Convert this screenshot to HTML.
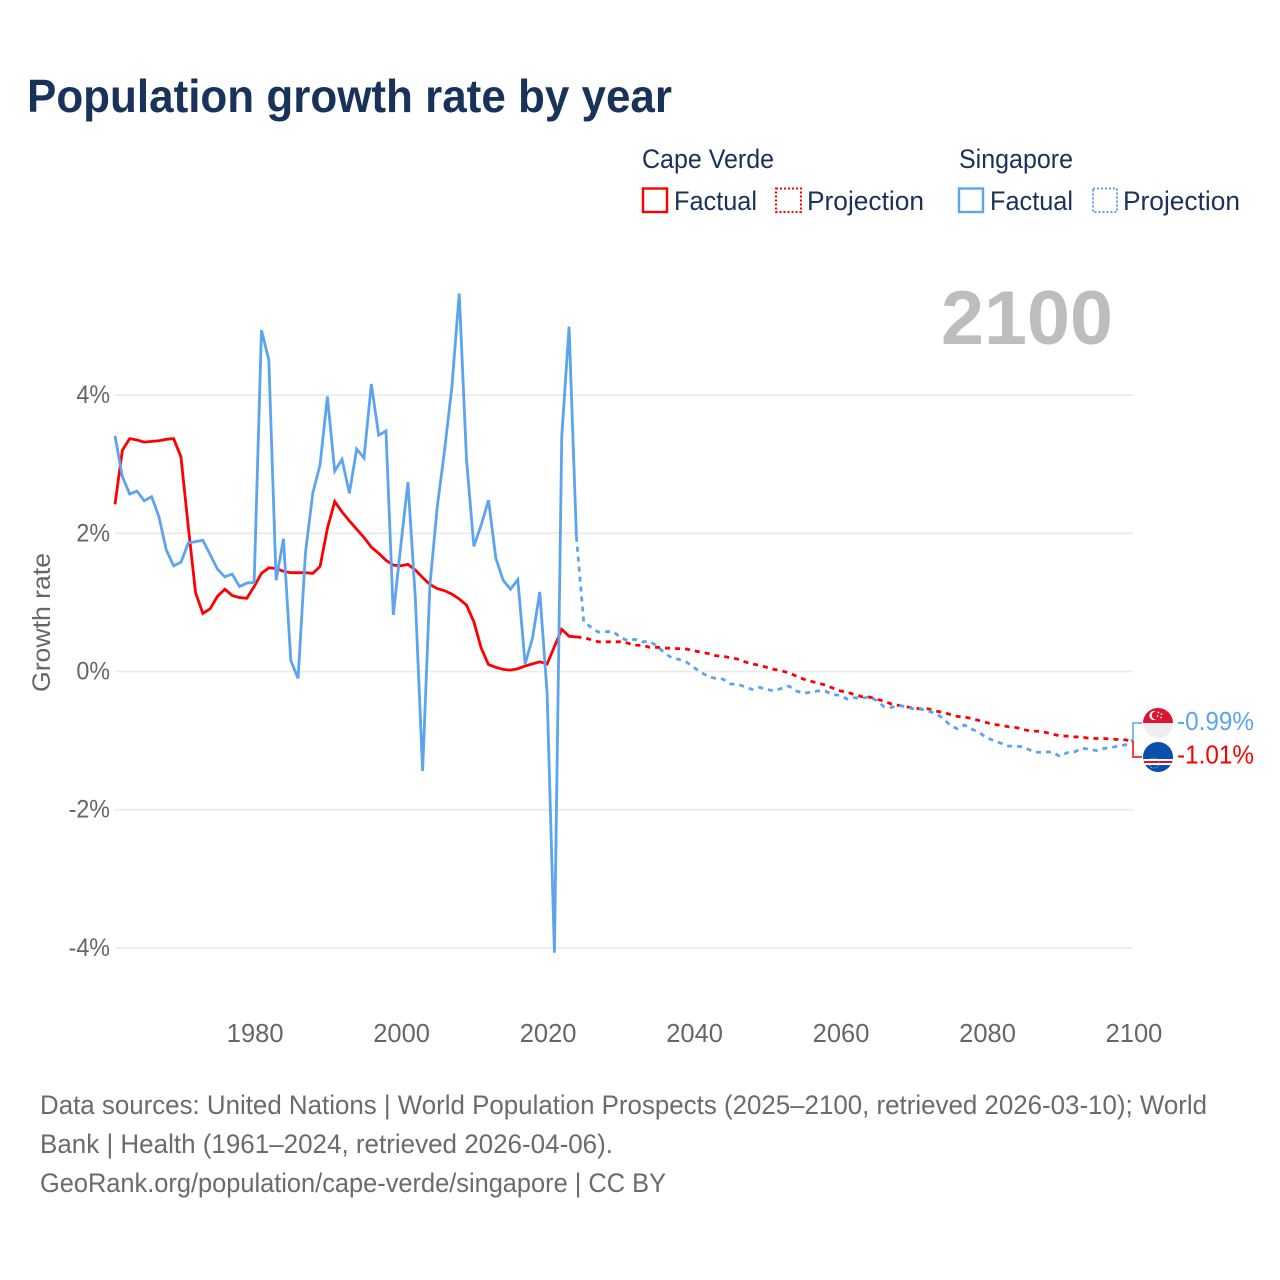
<!DOCTYPE html>
<html lang="en">
<head>
<meta charset="utf-8">
<title>Population growth rate by year</title>
<style>
html,body{margin:0;padding:0;background:#fff;}
svg{display:block;font-family:"Liberation Sans",sans-serif;}
</style>
</head>
<body>
<svg id="chart" xmlns="http://www.w3.org/2000/svg" width="1280" height="1280" viewBox="0 0 1280 1280">
  <rect x="0" y="0" width="1280" height="1280" fill="#fff"/>
  <text x="27" y="112" font-size="46" font-weight="700" fill="#18325a" textLength="645" lengthAdjust="spacingAndGlyphs">Population growth rate by year</text>

  <g font-size="27" fill="#18325a">
    <text x="642" y="168" textLength="132" lengthAdjust="spacingAndGlyphs">Cape Verde</text>
    <text x="959" y="168" textLength="114" lengthAdjust="spacingAndGlyphs">Singapore</text>
    <rect x="643" y="188.5" width="24" height="23.5" fill="none" stroke="#ff0000" stroke-width="2.4"/>
    <text x="674" y="210" textLength="83" lengthAdjust="spacingAndGlyphs">Factual</text>
    <rect x="776" y="188.5" width="25" height="23.5" fill="none" stroke="#ff0000" stroke-width="2" stroke-dasharray="2,2"/>
    <text x="807" y="210" textLength="117" lengthAdjust="spacingAndGlyphs">Projection</text>
    <rect x="959" y="188.5" width="24" height="23.5" fill="none" stroke="#5ca4ee" stroke-width="2.4"/>
    <text x="990" y="210" textLength="83" lengthAdjust="spacingAndGlyphs">Factual</text>
    <rect x="1093" y="188.5" width="24" height="23.5" fill="none" stroke="#5ca4ee" stroke-width="2" stroke-dasharray="2,2"/>
    <text x="1123" y="210" textLength="117" lengthAdjust="spacingAndGlyphs">Projection</text>
  </g>

  <text x="941" y="344" font-size="76" font-weight="700" fill="#bdbdbd" textLength="172" lengthAdjust="spacingAndGlyphs">2100</text>

  <g id="grid"></g>
  <g id="yticks"></g>
  <g id="xticks"></g>
  <text transform="translate(50,692) rotate(-90)" font-size="25" fill="#666" textLength="139" lengthAdjust="spacingAndGlyphs">Growth rate</text>
  <g id="series"></g>

  <g fill="none" stroke-width="2" opacity="0.75">
    <path d="M1133 741V723H1142" stroke="#5ca4ee"/>
    <path d="M1133 741V757H1142" stroke="#ff0000"/>
  </g>

  <g>
    <clipPath id="clipSg"><circle cx="1158" cy="723" r="15"/></clipPath>
    <g clip-path="url(#clipSg)">
      <rect x="1143" y="708" width="30" height="15" fill="#dc1433"/>
      <rect x="1143" y="723" width="30" height="15" fill="#eeeeee"/>
      <circle cx="1154" cy="715.5" r="4.6" fill="#fff"/>
      <circle cx="1156" cy="715.5" r="4.2" fill="#dc1433"/>
      <circle cx="1158.5" cy="712.5" r="0.9" fill="#fff"/>
      <circle cx="1161.5" cy="714" r="0.9" fill="#fff"/>
      <circle cx="1157.5" cy="716" r="0.9" fill="#fff"/>
      <circle cx="1161" cy="717.5" r="0.9" fill="#fff"/>
    </g>
  </g>
  <g>
    <clipPath id="clipCv"><circle cx="1158" cy="757" r="15"/></clipPath>
    <g clip-path="url(#clipCv)">
      <rect x="1143" y="742" width="30" height="30" fill="#0a4fae"/>
      <rect x="1143" y="759" width="30" height="6" fill="#fff"/>
      <rect x="1143" y="761" width="30" height="2" fill="#d21034"/>
      <circle cx="1154" cy="763" r="5" fill="none" stroke="#d9c96a" stroke-width="1" stroke-dasharray="1,1.5"/>
    </g>
  </g>

  <text x="1177" y="730" font-size="26" fill="#5ca4ee" textLength="77" lengthAdjust="spacingAndGlyphs">-0.99%</text>
  <text x="1177" y="763.5" font-size="26" fill="#ff0000" textLength="77" lengthAdjust="spacingAndGlyphs">-1.01%</text>

  <g font-size="27" fill="#6b6b6b">
    <text x="40" y="1114" textLength="1167" lengthAdjust="spacingAndGlyphs">Data sources: United Nations | World Population Prospects (2025–2100, retrieved 2026-03-10); World</text>
    <text x="40" y="1153" textLength="573" lengthAdjust="spacingAndGlyphs">Bank | Health (1961–2024, retrieved 2026-04-06).</text>
    <text x="40" y="1192" textLength="626" lengthAdjust="spacingAndGlyphs">GeoRank.org/population/cape-verde/singapore | CC BY</text>
  </g>
</svg>

<script>
const factualYears = [1961,1962,1963,1964,1965,1966,1967,1968,1969,1970,1971,1972,1973,1974,1975,1976,1977,1978,1979,1980,1981,1982,1983,1984,1985,1986,1987,1988,1989,1990,1991,1992,1993,1994,1995,1996,1997,1998,1999,2000,2001,2002,2003,2004,2005,2006,2007,2008,2009,2010,2011,2012,2013,2014,2015,2016,2017,2018,2019,2020,2021,2022,2023,2024];
const projectionYears = [2024,2025,2026,2027,2028,2029,2030,2031,2032,2033,2034,2035,2036,2037,2038,2039,2040,2041,2042,2043,2044,2045,2046,2047,2048,2049,2050,2051,2052,2053,2054,2055,2056,2057,2058,2059,2060,2061,2062,2063,2064,2065,2066,2067,2068,2069,2070,2071,2072,2073,2074,2075,2076,2077,2078,2079,2080,2081,2082,2083,2084,2085,2086,2087,2088,2089,2090,2091,2092,2093,2094,2095,2096,2097,2098,2099,2100];

const capeVerdeFactual = [2.42,3.20,3.37,3.35,3.32,3.33,3.34,3.36,3.37,3.11,2.10,1.14,0.84,0.91,1.09,1.19,1.10,1.07,1.06,1.23,1.42,1.50,1.49,1.45,1.43,1.43,1.43,1.42,1.52,2.07,2.46,2.31,2.18,2.06,1.94,1.80,1.71,1.61,1.54,1.53,1.55,1.47,1.36,1.26,1.20,1.17,1.12,1.05,0.96,0.72,0.34,0.10,0.06,0.03,0.02,0.04,0.08,0.11,0.14,0.11,0.36,0.61,0.51,0.50];
const singaporeFactual = [3.41,2.82,2.57,2.61,2.47,2.53,2.24,1.76,1.53,1.58,1.86,1.88,1.90,1.69,1.48,1.37,1.41,1.23,1.28,1.29,4.94,4.51,1.32,1.92,0.16,-0.10,1.71,2.58,2.99,3.98,2.90,3.07,2.58,3.22,3.09,4.16,3.42,3.48,0.82,1.80,2.74,1.08,-1.44,1.25,2.38,3.20,4.12,5.47,3.06,1.81,2.12,2.48,1.64,1.32,1.19,1.33,0.11,0.48,1.15,-0.31,-4.07,3.40,4.99,1.95];
const capeVerdeProjection = [0.50,0.49,0.46,0.43,0.43,0.43,0.43,0.41,0.38,0.38,0.35,0.35,0.34,0.335,0.33,0.325,0.30,0.28,0.26,0.23,0.22,0.20,0.18,0.14,0.11,0.09,0.06,0.03,0.01,-0.02,-0.065,-0.11,-0.14,-0.17,-0.195,-0.24,-0.28,-0.30,-0.335,-0.365,-0.37,-0.40,-0.43,-0.47,-0.49,-0.51,-0.53,-0.54,-0.54,-0.57,-0.59,-0.62,-0.65,-0.66,-0.68,-0.71,-0.74,-0.765,-0.78,-0.80,-0.81,-0.84,-0.86,-0.865,-0.88,-0.905,-0.93,-0.935,-0.945,-0.95,-0.965,-0.97,-0.97,-0.975,-0.985,-0.99,-1.01];
const singaporeProjection = [1.95,0.72,0.64,0.57,0.575,0.58,0.495,0.445,0.465,0.43,0.435,0.37,0.27,0.20,0.175,0.14,0.06,-0.01,-0.075,-0.10,-0.11,-0.18,-0.185,-0.22,-0.26,-0.23,-0.26,-0.28,-0.245,-0.21,-0.28,-0.315,-0.30,-0.28,-0.285,-0.335,-0.345,-0.40,-0.38,-0.39,-0.365,-0.42,-0.51,-0.52,-0.49,-0.51,-0.54,-0.545,-0.57,-0.605,-0.67,-0.775,-0.83,-0.775,-0.835,-0.88,-0.96,-1.00,-1.04,-1.08,-1.08,-1.09,-1.14,-1.17,-1.165,-1.165,-1.23,-1.175,-1.165,-1.11,-1.125,-1.145,-1.115,-1.10,-1.08,-1.06,-0.99];

const xTickYears = [1980,2000,2020,2040,2060,2080,2100];
const yTickValues = [4,2,0,-2,-4];

const SVG_NS = 'http://www.w3.org/2000/svg';
const xScale = function (year) { return 115 + (year - 1961) * (1133 - 115) / (2100 - 1961); };
const yScale = function (value) { return 671.5 - value * 69.1; };

function linePath(years, values) {
  return values.map(function (v, i) {
    return (i ? 'L' : 'M') + xScale(years[i]).toFixed(2) + ' ' + yScale(v).toFixed(2);
  }).join('');
}

const gridGroup = document.getElementById('grid');
const yTickGroup = document.getElementById('yticks');
const xTickGroup = document.getElementById('xticks');
const seriesGroup = document.getElementById('series');

yTickValues.forEach(function (v) {
  const line = document.createElementNS(SVG_NS, 'line');
  
  
  line.setAttribute('x1', 115);
  line.setAttribute('x2', 1133);
  line.setAttribute('y1', yScale(v));
  line.setAttribute('y2', yScale(v));
  line.setAttribute('stroke', '#ebebeb');
  line.setAttribute('stroke-width', 1.8);
  gridGroup.appendChild(line);

  const label = document.createElementNS(SVG_NS, 'text');
  
  
  label.setAttribute('x', 110);
  label.setAttribute('y', yScale(v) + 8);
  label.setAttribute('text-anchor', 'end');
  label.setAttribute('font-size', 25);
  label.setAttribute('fill', '#666');
  label.textContent = v + '%';
  yTickGroup.appendChild(label);
  label.setAttribute('textLength', (label.getComputedTextLength() * 0.93).toFixed(1));
  label.setAttribute('lengthAdjust', 'spacingAndGlyphs');
});

xTickYears.forEach(function (year) {
  const label = document.createElementNS(SVG_NS, 'text');
  
  
  label.setAttribute('x', xScale(year) + 1);
  label.setAttribute('y', 1042);
  label.setAttribute('text-anchor', 'middle');
  label.setAttribute('font-size', 25.5);
  label.setAttribute('fill', '#666');
  label.textContent = String(year);
  xTickGroup.appendChild(label);
});

function addSeries(name, years, values, color, dashed) {
  const path = document.createElementNS(SVG_NS, 'path');
  
  
  path.setAttribute('d', linePath(years, values));
  path.setAttribute('fill', 'none');
  path.setAttribute('stroke', color);
  path.setAttribute('stroke-width', 2.8);
  path.setAttribute('stroke-linejoin', 'miter');
  path.setAttribute('stroke-miterlimit', '4');
  if (dashed) path.setAttribute('stroke-dasharray', '5,5');
  seriesGroup.appendChild(path);
}

addSeries('line-cape-verde-factual', factualYears, capeVerdeFactual, '#ff0000', false);
addSeries('line-cape-verde-projection', projectionYears, capeVerdeProjection, '#ff0000', true);
addSeries('line-singapore-factual', factualYears, singaporeFactual, '#5ca4ee', false);
addSeries('line-singapore-projection', projectionYears, singaporeProjection, '#5ca4ee', true);
</script>
</body>
</html>
